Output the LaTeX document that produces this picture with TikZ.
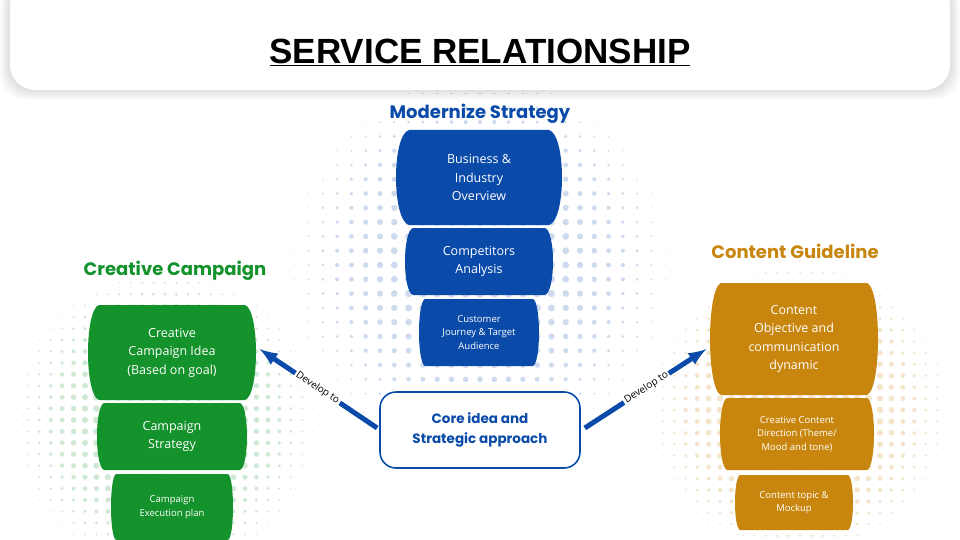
\documentclass[tikz,border=0pt]{standalone}
\usepackage{fontspec}
\setmainfont{Open Sans}
\newfontfamily\headfont{Poppins}
\newfontfamily\titlefont{Liberation Sans}
\usetikzlibrary{positioning}
\definecolor{msblue}{HTML}{0A4BAA}
\definecolor{ccgreen}{HTML}{14922B}
\definecolor{cgorange}{HTML}{C8860F}
\tikzset{
  heading/.style={font=\headfont\bfseries\fontsize{18}{20}\selectfont},
  celltext/.style={text=white, align=center, font=\fontsize{12.5}{18.5}\selectfont},
  smalltext/.style={text=white, align=center, font=\fontsize{9.5}{13.5}\selectfont},
  develop/.style={-latex, line width=5pt, draw=msblue, shorten >=2pt},
  devlabel/.style={font=\fontsize{10}{11}\selectfont, fill=white, inner sep=1.5pt, sloped}
}
% barrel: name, cx, ytop, ybot, half width, bulge, colour
\newcommand\barrelcell[7]{%
  \fill[#7] ({#2-#5},#3) -- ({#2+#5},#3)
    .. controls ({#2+#5+#6/0.75},{#3+0.05*(#4-#3)}) and ({#2+#5+#6/0.75},{#4-0.05*(#4-#3)}) .. ({#2+#5},#4)
    -- ({#2-#5},#4)
    .. controls ({#2-#5-#6/0.75},{#4-0.05*(#4-#3)}) and ({#2-#5-#6/0.75},{#3+0.05*(#4-#3)}) .. ({#2-#5},#3) -- cycle;
  \coordinate (#1) at (#2,{(#3+#4)/2});
  \coordinate (#1-e) at ({#2+#5+#6},{(#3+#4)/2});
  \coordinate (#1-w) at ({#2-#5-#6},{(#3+#4)/2});
}
% halftone dots: cx, cy, radius, colour
\newcommand\halftone[4]{%
  \foreach \i in {-14,...,14}{\foreach \j in {-14,...,14}{%
    \pgfmathsetmacro\dd{sqrt((\i/14)^2+(\j/14)^2)}
    \pgfmathsetmacro\rr{max(0,4.2*(1-\dd*\dd))}
    \ifdim\rr pt>0.4pt
      \fill[#4] ({#1+\i*#3/14},{#2+\j*#3/14}) circle (\rr);
    \fi}}}
\begin{document}
\begin{tikzpicture}[x=1pt,y=-1pt]
\useasboundingbox (0,0) rectangle (960,540);
\fill[white] (0,0) rectangle (960,540);
% backgrounds
\halftone{480}{265}{200}{msblue!20}
\halftone{165}{420}{160}{ccgreen!20}
\halftone{800}{410}{160}{cgorange!22}
% header
\foreach \k in {1,...,10}
  \fill[black, opacity=0.012, rounded corners=25] ({10-\k},-20) rectangle ({950+\k},{90+\k});
\fill[white, rounded corners=25] (10,-20) rectangle (950,90);
\node[font=\titlefont\bfseries\fontsize{35}{38}\selectfont] (title) at (480,52) {\underline{SERVICE RELATIONSHIP}};

% modernize strategy
\node[heading, text=msblue] (msh) at (480,114) {Modernize Strategy};
\barrelcell{ms1}{479}{130}{225}{70}{13}{msblue}
\barrelcell{ms2}{479}{228}{295}{66}{8}{msblue}
\barrelcell{ms3}{479}{299}{366}{54}{6}{msblue}
\node[celltext] at (ms1) {Business \&\\Industry\\Overview};
\node[celltext] at (ms2) {Competitors\\Analysis};
\node[smalltext] at (ms3) {Customer\\Journey \& Target\\Audience};

% creative campaign
\node[heading, text=ccgreen] (cch) at (175,271) {Creative Campaign};
\barrelcell{cc1}{172}{305}{400}{73}{11}{ccgreen}
\barrelcell{cc2}{172}{403}{470}{68}{7}{ccgreen}
\barrelcell{cc3}{172}{474}{540}{56}{5}{ccgreen}
\node[celltext] at (cc1) {Creative\\Campaign Idea\\(Based on goal)};
\node[celltext] at (cc2) {Campaign\\Strategy};
\node[smalltext] at (cc3) {Campaign\\Execution plan};

% content guideline
\node[heading, text=cgorange] (cgh) at (795,251) {Content Guideline};
\barrelcell{cg1}{794}{283}{395}{73}{11}{cgorange}
\barrelcell{cg2}{797}{398}{470}{70}{7}{cgorange}
\barrelcell{cg3}{794}{475}{530}{54}{5}{cgorange}
\node[celltext] at (cg1) {Content\\Objective and\\communication\\dynamic};
\node[smalltext] at (cg2) {Creative Content\\Direction (Theme/\\Mood and tone)};
\node[smalltext] at (cg3) {Content topic \&\\Mockup};

% core
\node[draw=msblue, line width=1.6pt, rounded corners=16, minimum width=200pt, minimum height=76pt,
  align=center, text=msblue, fill=white, font=\headfont\bfseries\fontsize{13.5}{20}\selectfont] (core) at (480,430)
  {Core idea and\\Strategic approach};
\draw[develop] (core.west) ++(-2,-2) coordinate (cl) (cl) -- node[devlabel] {Develop to} ([xshift=2pt]cc1-e |- 0,348);
\draw[develop] (core.east) ++(4,-2) coordinate (cr) (cr) -- node[devlabel] {Develop to} ([xshift=-2pt]cg1-w |- 0,348);
\end{tikzpicture}
\end{document}
